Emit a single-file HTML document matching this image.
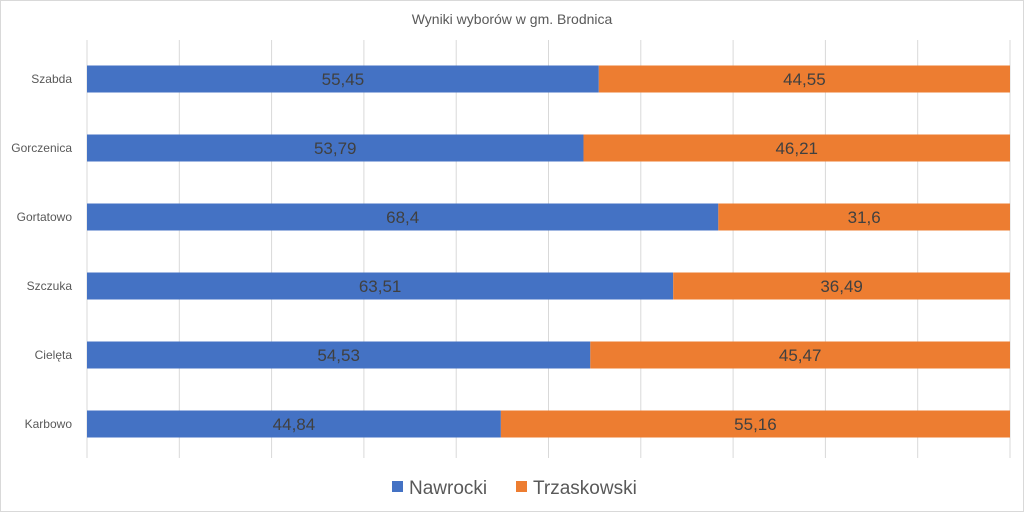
<!DOCTYPE html>
<html><head><meta charset="utf-8"><style>
body{margin:0;width:1024px;height:512px;background:#fff;overflow:hidden}
svg{display:block;font-family:"Liberation Sans",sans-serif}
</style></head><body>
<svg width="1024" height="512">
<rect x="0.5" y="0.5" width="1023" height="511" fill="#fff" stroke="#d9d9d9"/>
<text x="512" y="24" text-anchor="middle" font-size="14" fill="#595959">Wyniki wyborów w gm. Brodnica</text>
<g id="grid"></g><g id="bars"></g><g id="labels"></g>
<g>
<rect x="392" y="481" width="11" height="11" fill="#4472c4"/>
<text x="409" y="494" font-size="19" fill="#595959">Nawrocki</text>
<rect x="516" y="481" width="11" height="11" fill="#ed7d31"/>
<text x="533" y="494" font-size="19" fill="#595959">Trzaskowski</text>
</g>
</svg>
<script>
const categories=["Szabda","Gorczenica","Gortatowo","Szczuka","Cielęta","Karbowo"];
const nawrocki=[55.45,53.79,68.4,63.51,54.53,44.84];
const trzaskowski=[44.55,46.21,31.6,36.49,45.47,55.16];
const ns="http://www.w3.org/2000/svg";
const x0=87,x1=1010,top0=40,bottom=458,pitch=69,bh=27;
const xs=v=>x0+(x1-x0)*v/100;
const yc=i=>79+i*pitch;
const fmt=v=>String(v).replace('.',',');
function mk(t,a,p){const e=document.createElementNS(ns,t);for(const k in a)e.setAttribute(k,a[k]);p.appendChild(e);return e;}
const grid=document.getElementById('grid'),bars=document.getElementById('bars'),labels=document.getElementById('labels');
for(let v=0;v<=100;v+=10){
 const l=mk('line',{x1:xs(v),x2:xs(v),y1:top0,y2:bottom,stroke:'#d9d9d9'},grid);
 
 
}
categories.forEach((c,i)=>{
 const y=yc(i)-bh/2;
 const total=nawrocki[i]+trzaskowski[i];
 const a=nawrocki[i]/total*100;
 const r1=mk('rect',{x:xs(0),y:y,width:xs(a)-xs(0),height:bh,fill:'#4472c4'},bars);
 
 
 const r2=mk('rect',{x:xs(a),y:y,width:xs(100)-xs(a),height:bh,fill:'#ed7d31'},bars);
 
 
 const t1=mk('text',{x:(xs(0)+xs(a))/2,y:yc(i)+6,'text-anchor':'middle','font-size':'17',fill:'#404040'},labels);
 t1.textContent=fmt(nawrocki[i]);
 
 
 const t2=mk('text',{x:(xs(a)+xs(100))/2,y:yc(i)+6,'text-anchor':'middle','font-size':'17',fill:'#404040'},labels);
 t2.textContent=fmt(trzaskowski[i]);
 
 
 const tc=mk('text',{x:72,y:yc(i)+4,'text-anchor':'end','font-size':'12',fill:'#595959'},labels);
 tc.textContent=c;
 
 
});
</script>
</body></html>
